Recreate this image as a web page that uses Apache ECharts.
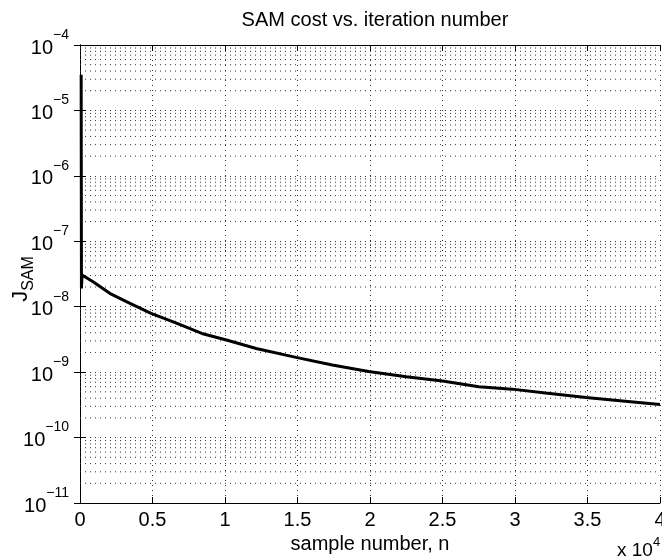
<!DOCTYPE html>
<html>
<head>
<meta charset="utf-8">
<script src="https://cdn.jsdelivr.net/npm/echarts@6/dist/echarts.min.js"></script>
<style>html,body{margin:0;padding:0;background:#fff;}#c{width:662px;height:557px;}</style>
</head>
<body>
<div id="c"></div>
<script>
// ---- data ----
var sampleN = [80, 100, 140, 900, 2050, 3200, 4900, 6650, 8400, 10100, 12150, 14900, 17400, 19900, 22500, 25000, 27500, 29800, 32100, 34900, 37600, 40000];
var costJ   = [3.5e-5, 1.9e-8, 3.05e-8, 2.4e-8, 1.6e-8, 1.2e-8, 7.9e-9, 5.6e-9, 3.9e-9, 3.1e-9, 2.3e-9, 1.68e-9, 1.29e-9, 1.02e-9, 8.5e-10, 7.3e-10, 6.0e-10, 5.5e-10, 4.8e-10, 4.1e-10, 3.6e-10, 3.2e-10];
var xTickLabels = ['0', '0.5', '1', '1.5', '2', '2.5', '3', '3.5', '4'];
var yDecadeExponents = [-11, -10, -9, -8, -7, -6, -5, -4];
var minorMantissas = [2, 3, 4, 5, 6, 7, 8, 9];
var titleText = 'SAM cost vs. iteration number';
var xName = 'sample number, n';
var yNameMain = 'J', yNameSub = 'SAM';

var FONT = '"Liberation Sans", Arial, Helvetica, sans-serif';
var X_MIN = 0, X_MAX = 40000;
var points = sampleN.map(function (n, i) { return [n, costJ[i]]; });

var dotted = { type: [1, 4], color: '#333', width: 1 };

var seriesList = [];
// minor log grid lines (2..9 x 10^k), drawn as dotted line series through the axes
yDecadeExponents.slice(0, -1).forEach(function (e) {
  minorMantissas.forEach(function (m) {
    var v = m * Math.pow(10, e);
    seriesList.push({
      type: 'line', silent: true, symbol: 'none', showSymbol: false,
      data: [[X_MIN, v], [X_MAX, v]],
      lineStyle: dotted, z: 1, animation: false
    });
  });
});
seriesList.push({
  type: 'line', xAxisIndex: 0, yAxisIndex: 0,
  data: points, showSymbol: false, symbol: 'none',
  lineStyle: { color: '#000', width: 3 }, z: 5
});

var chart = echarts.init(document.getElementById('c'), null, { renderer: 'canvas' });
chart.setOption({
  animation: false,
  backgroundColor: '#fff',
  textStyle: { fontFamily: FONT },
  title: {
    text: titleText, left: 370, top: 5, textAlign: 'center',
    textStyle: { fontFamily: FONT, fontSize: 20, fontWeight: 'normal', color: '#000' }
  },
  grid: { left: 80, right: 2, top: 45, bottom: 54, containLabel: false, outerBoundsMode: 'none' },
  xAxis: [{
    type: 'value', min: X_MIN, max: X_MAX, interval: 5000,
    name: xName, nameLocation: 'middle', nameGap: 27,
    nameTextStyle: { fontFamily: FONT, fontSize: 20, color: '#000' },
    axisLine: { show: true, lineStyle: { color: '#000', width: 1 } },
    axisTick: { show: true, inside: true, length: 6, lineStyle: { color: '#000' } },
    axisLabel: {
      margin: 7, color: '#000', fontSize: 20, fontFamily: FONT,
      formatter: function (v) { return xTickLabels[Math.round(v / 5000)]; }
    },
    splitLine: { show: true, lineStyle: dotted }
  }, {
    type: 'value', min: X_MIN, max: X_MAX, interval: 5000, position: 'top',
    axisLine: { show: true, lineStyle: { color: '#000', width: 1 } },
    axisTick: { show: true, inside: true, length: 6, lineStyle: { color: '#000' } },
    axisLabel: { show: false }, splitLine: { show: false }
  }],
  yAxis: [{
    type: 'log', logBase: 10, min: 1e-11, max: 1e-4,
    axisLine: { show: true, lineStyle: { color: '#000', width: 1 } },
    axisTick: { show: true, inside: true, length: 6, lineStyle: { color: '#000' } },
    axisLabel: {
      margin: 11, color: '#000',
      formatter: function (v) {
        var e = Math.round(Math.log(v) / Math.LN10);
        return '{b|10}{s|\u2212' + Math.abs(e) + '}';
      },
      rich: {
        b: { fontSize: 20, fontFamily: FONT, color: '#000', padding: [6, 0, 0, 0] },
        s: { fontSize: 14, fontFamily: FONT, color: '#000', padding: [0, 0, 20, 0] }
      }
    },
    splitLine: { show: true, lineStyle: dotted }
  }, {
    type: 'log', logBase: 10, min: 1e-11, max: 1e-4, position: 'right',
    axisLine: { show: true, lineStyle: { color: '#000', width: 1 } },
    axisTick: { show: true, inside: true, length: 6, lineStyle: { color: '#000' } },
    axisLabel: { show: false }, splitLine: { show: false }
  }],
  graphic: [{
    type: 'text', x: 21, y: 279, rotation: Math.PI / 2,
    style: {
      text: '{j|' + yNameMain + '}{s|' + yNameSub + '}',
      align: 'center', verticalAlign: 'middle',
      rich: {
        j: { fontSize: 22, fontFamily: FONT, fill: '#000' },
        s: { fontSize: 16, fontFamily: FONT, fill: '#000', padding: [16, 0, 0, 0] }
      }
    }
  }, {
    type: 'text', left: 617, top: 536,
    style: {
      text: '{a|x 10}{b|4}',
      rich: {
        a: { fontSize: 19, fontFamily: FONT, fill: '#000', padding: [8, 0, 0, 0] },
        b: { fontSize: 13, fontFamily: FONT, fill: '#000', padding: [0, 0, 8, 0] }
      }
    }
  }],
  series: seriesList
});
</script>
</body>
</html>
